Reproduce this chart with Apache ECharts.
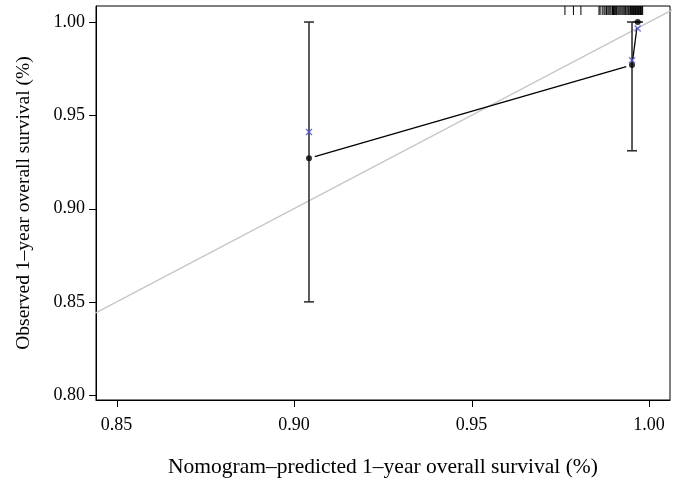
<!DOCTYPE html>
<html>
<head>
<meta charset="utf-8">
<script src="https://cdn.jsdelivr.net/npm/echarts@6/dist/echarts.min.js"></script>
<style>
  html, body { margin: 0; padding: 0; background: #fff; }
  #chart { width: 686px; height: 483px; }
</style>
</head>
<body>
<div id="chart"></div>
<script>
// Calibration plot: nomogram-predicted vs observed 1-year overall survival

// Tick labels on both axes
const xTicks = [0.85, 0.90, 0.95, 1.00];
const yTicks = [0.80, 0.85, 0.90, 0.95, 1.00];

// Axis extents (plot region)
const xRange = [0.8442, 1.0059];
const yRange = [0.7974, 1.0086];

// Groups: mean predicted survival, observed (Kaplan-Meier), bias-corrected, 95% CI
const predicted = [0.9042, 0.9952, 0.9968];
const observed = [0.927, 0.977, 1.000];
const corrected = [0.941, 0.9795, 0.9966];
const ciLower = [0.850, 0.931, 1.000];
const ciUpper = [1.000, 1.000, 1.000];

// Ideal (45-degree) reference line
const ideal = [0.80, 1.02];

// Rug of individual predicted values along the top edge
const rugX = [
  0.9763, 0.9787, 0.9808,
  0.9859, 0.9862, 0.9868, 0.9873, 0.9876, 0.9880, 0.9884, 0.9887, 0.9890,
  0.9893, 0.9897, 0.9900, 0.9903, 0.9906, 0.9908, 0.9912, 0.9915, 0.9918,
  0.9921, 0.9924, 0.9927, 0.9930, 0.9933, 0.9935, 0.9938, 0.9941, 0.9943,
  0.9946, 0.9948, 0.9950, 0.9952, 0.9954, 0.9956, 0.9958, 0.9960, 0.9962,
  0.9964, 0.9966, 0.9968, 0.9970, 0.9972, 0.9974, 0.9976, 0.9978, 0.9980,
  0.9982
];

const FONT = '"Liberation Serif", "DejaVu Serif", serif';
const TICK_LEN = 7;
const chart = echarts.init(document.getElementById('chart'), null, { renderer: 'canvas' });

const fmt = v => v.toFixed(2);

// Consecutive group pairs, joined by a line that stops short of each point
const segments = predicted.slice(0, -1).map((x, i) => [x, observed[i], predicted[i + 1], observed[i + 1]]);

chart.setOption({
  animation: false,
  backgroundColor: '#ffffff',
  grid: {
    left: 96, right: 16, top: 6, bottom: 73,
    show: true, borderColor: '#000', borderWidth: 1, backgroundColor: 'transparent'
  },
  xAxis: {
    type: 'value',
    min: xRange[0], max: xRange[1],
    axisLine: { show: true, onZero: false, lineStyle: { color: '#000', width: 1 } },
    splitLine: { show: false },
    axisTick: { show: false },
    axisLabel: { customValues: xTicks, formatter: fmt, margin: 16, color: '#000', fontFamily: FONT, fontSize: 18 },
    name: 'Nomogram–predicted 1–year overall survival (%)',
    nameLocation: 'middle', nameGap: 56,
    nameTextStyle: { color: '#000', fontFamily: FONT, fontSize: 21.5 }
  },
  yAxis: {
    type: 'value',
    min: yRange[0], max: yRange[1],
    axisLine: { show: true, onZero: false, lineStyle: { color: '#000', width: 1 } },
    splitLine: { show: false },
    axisTick: { show: false },
    axisLabel: { customValues: yTicks, formatter: fmt, margin: 11, color: '#000', fontFamily: FONT, fontSize: 18 },
    name: 'Observed 1–year overall survival (%)',
    nameLocation: 'middle', nameGap: 62,
    nameTextStyle: { color: '#000', fontFamily: FONT, fontSize: 19.5 }
  },
  series: [
    {
      name: 'ideal',
      type: 'line',
      data: ideal.map(v => [v, v]),
      showSymbol: false,
      clip: true,
      lineStyle: { color: '#c4c4c4', width: 1.2 },
      z: 1
    },
    {
      name: 'ci',
      type: 'custom',
      data: predicted.map((x, i) => [x, ciLower[i], ciUpper[i]]),
      clip: false,
      z: 2,
      renderItem: function (params, api) {
        const lo = api.coord([api.value(0), api.value(1)]);
        const hi = api.coord([api.value(0), api.value(2)]);
        const half = 5;
        const style = { stroke: '#333', lineWidth: 1.6, fill: null };
        return {
          type: 'group',
          children: [
            { type: 'line', shape: { x1: lo[0], y1: lo[1], x2: hi[0], y2: hi[1] }, style: style },
            { type: 'line', shape: { x1: lo[0] - half, y1: lo[1], x2: lo[0] + half, y2: lo[1] }, style: style },
            { type: 'line', shape: { x1: hi[0] - half, y1: hi[1], x2: hi[0] + half, y2: hi[1] }, style: style }
          ]
        };
      }
    },
    {
      name: 'observed-line',
      type: 'custom',
      data: segments,
      clip: false,
      z: 3,
      renderItem: function (params, api) {
        const a = api.coord([api.value(0), api.value(1)]);
        const b = api.coord([api.value(2), api.value(3)]);
        const dx = b[0] - a[0], dy = b[1] - a[1];
        const len = Math.sqrt(dx * dx + dy * dy);
        const gap = 6;
        const ux = dx / len, uy = dy / len;
        return {
          type: 'line',
          shape: { x1: a[0] + ux * gap, y1: a[1] + uy * gap, x2: b[0] - ux * gap, y2: b[1] - uy * gap },
          style: { stroke: '#000', lineWidth: 1.3 }
        };
      }
    },
    {
      name: 'observed',
      type: 'scatter',
      data: predicted.map((x, i) => [x, observed[i]]),
      symbol: 'circle',
      symbolSize: 6,
      itemStyle: { color: '#000' },
      z: 4
    },
    {
      name: 'corrected',
      type: 'scatter',
      data: predicted.map((x, i) => [x, corrected[i]]),
      symbol: 'path://M0,0L10,10M10,0L0,10',
      symbolSize: 6,
      itemStyle: { color: 'none', borderColor: '#4a52c8', borderWidth: 1.4 },
      z: 5
    },
    {
      name: 'rug',
      type: 'custom',
      data: rugX.map(x => [x]),
      clip: false,
      z: 6,
      renderItem: function (params, api) {
        const p = api.coord([api.value(0), yRange[1]]);
        return {
          type: 'line',
          shape: { x1: p[0], y1: p[1], x2: p[0], y2: p[1] + 9 },
          style: { stroke: '#000', lineWidth: 1 }
        };
      }
    }
  ]
});

// Outward tick marks at the labelled values, positioned by the axis scales
const tickStyle = { stroke: '#000', lineWidth: 1 };
const tickEls = [];
xTicks.forEach(v => {
  const p = chart.convertToPixel({ gridIndex: 0 }, [v, yRange[0]]);
  const x = Math.round(p[0]) + 0.5;
  tickEls.push({ type: 'line', silent: true, z: 10, shape: { x1: x, y1: p[1], x2: x, y2: p[1] + TICK_LEN }, style: tickStyle });
});
yTicks.forEach(v => {
  const p = chart.convertToPixel({ gridIndex: 0 }, [xRange[0], v]);
  const y = Math.round(p[1]) + 0.5;
  tickEls.push({ type: 'line', silent: true, z: 10, shape: { x1: p[0], y1: y, x2: p[0] - TICK_LEN, y2: y }, style: tickStyle });
});
chart.setOption({ graphic: { elements: tickEls } });
</script>
</body>
</html>
